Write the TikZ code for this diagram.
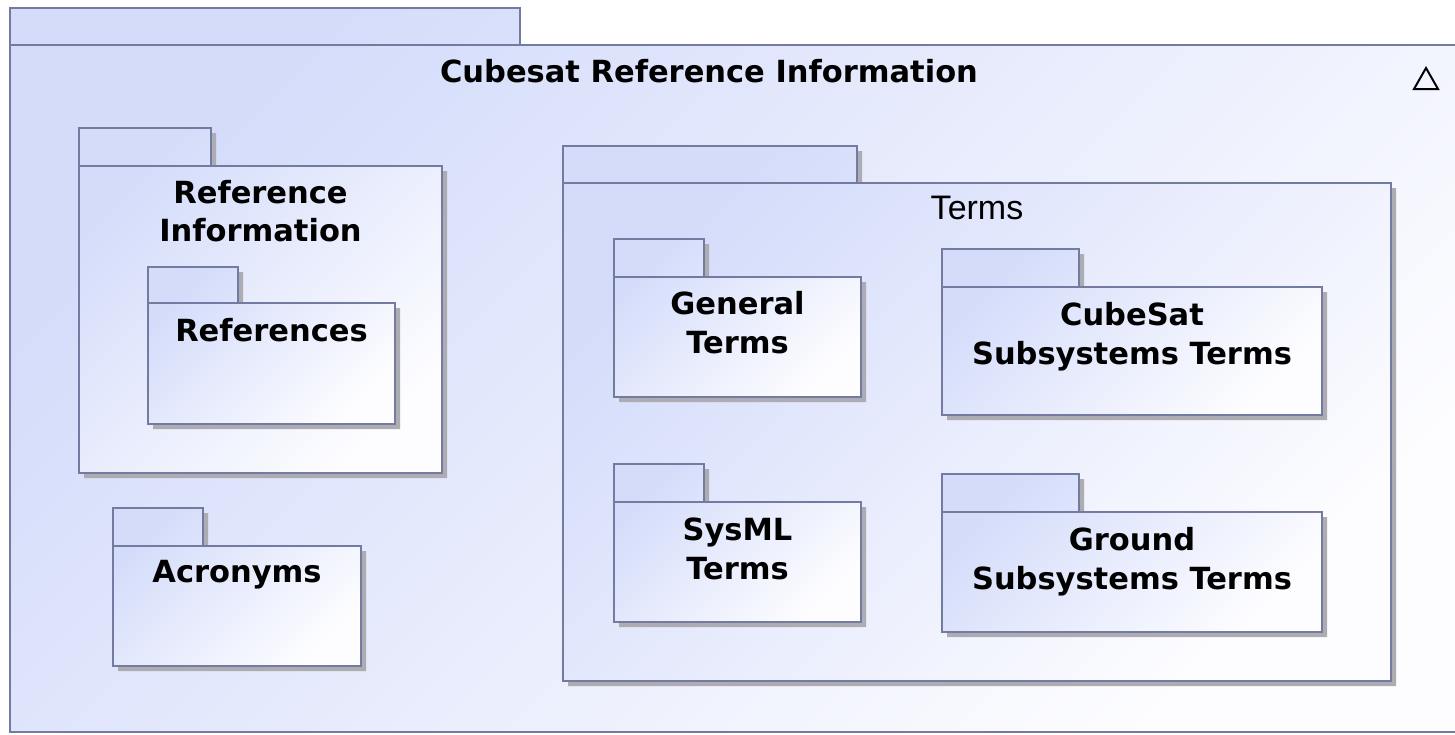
\documentclass[tikz,border=0pt]{standalone}
\usepackage{fontspec}
\setmainfont{DejaVu Sans}
\newfontfamily\lsans{Liberation Sans}
\definecolor{pkgline}{RGB}{115,124,160}
\definecolor{pkgblue}{RGB}{212,220,250}
\definecolor{pkgwhite}{RGB}{253,253,255}
\definecolor{shadowc}{RGB}{172,172,178}
\tikzset{
  pkgfill/.style={top color=pkgblue, bottom color=pkgwhite, shading angle=45},
  pkgborder/.style={draw=pkgline, line width=2.2pt},
  pkgshadow/.style={fill=shadowc, xshift=5pt, yshift=-5pt},
  pkglabel/.style={font=\fontsize{30.5}{38.5}\selectfont\bfseries, align=center, inner sep=0pt, anchor=base, text=black},
  termslabel/.style={font=\lsans\fontsize{34}{40}\selectfont, inner sep=0pt, anchor=base, text=black},
}
% #1 left, #2 tab right, #3 tab top, #4 body top, #5 right, #6 bottom
\newcommand\pkgdraw[6]{%
  \fill[pkgshadow] (#1,#3) -| (#2,#4) -| (#5,#6) -| cycle;
  \shade[pkgfill] (#1,#3) -| (#2,#4) -| (#5,#6) -| cycle;
  \draw[pkgborder] (#1,#3) rectangle (#2,#4);
  \draw[pkgborder] (#1,#4) rectangle (#5,#6);
}
\begin{document}
\begin{tikzpicture}[x=1pt,y=-1pt]
\useasboundingbox (0,0) rectangle (1455,734);
\fill[white] (0,0) rectangle (1455,734);
\clip (0,0) rectangle (1455,734);
% outer package
\shade[pkgfill] (10,8) -| (520,45) -| (1480,732) -| cycle;
\draw[pkgborder] (10,8) rectangle (520,45);
\draw[pkgborder] (10,45) rectangle (1480,732);
\node[pkglabel] (title) at (709,82) {Cubesat Reference Information};
\draw[line width=2pt, line join=miter] (1426,68) -- (1438,89) -- (1414,89) -- cycle;
\coordinate (tri) at (1426,80);
% Reference Information
\pkgdraw{79}{211}{128}{166}{442}{473}
\node[pkglabel] (refinfo) at (260.5,241.5) {Reference\\Information};
% References
\pkgdraw{148}{238}{267}{303}{395}{424}
\node[pkglabel] (refs) at (271.5,341) {References};
% Acronyms
\pkgdraw{113}{203}{508}{546}{361}{666}
\node[pkglabel] (acr) at (237,582) {Acronyms};
% Terms
\pkgdraw{563}{857}{146}{183}{1391}{681}
\node[termslabel] (terms) at (977,219) {Terms};
% General Terms
\pkgdraw{614}{704}{239}{277}{861}{397}
\node[pkglabel] (gen) at (737.5,353) {General\\Terms};
% SysML Terms
\pkgdraw{614}{704}{464}{502}{861}{622}
\node[pkglabel] (sysml) at (737.5,579) {SysML\\Terms};
% CubeSat Subsystems Terms
\pkgdraw{942}{1079}{249}{287}{1322}{415}
\node[pkglabel] (cube) at (1132,364) {CubeSat\\Subsystems Terms};
% Ground Subsystems Terms
\pkgdraw{942}{1079}{474}{512}{1322}{632}
\node[pkglabel] (ground) at (1132,589) {Ground\\Subsystems Terms};
\end{tikzpicture}
\end{document}
